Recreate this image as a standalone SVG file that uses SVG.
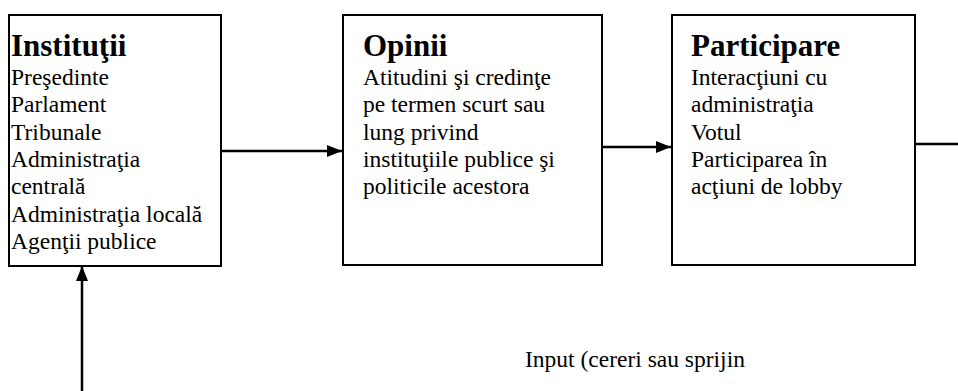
<svg xmlns="http://www.w3.org/2000/svg" width="958" height="391" viewBox="0 0 958 391">
<defs>
<marker id="ah" markerWidth="15" markerHeight="12" refX="15" refY="6" orient="auto" markerUnits="userSpaceOnUse">
<path d="M0,0 L15,6 L0,12 Z" fill="#000"/>
</marker>
<style>
.box{fill:#fff;stroke:#000;stroke-width:2}
.t{font-family:"Liberation Serif","Times New Roman",serif;font-weight:bold;font-size:31px;fill:#000}
.b{font-family:"Liberation Serif","Times New Roman",serif;font-size:23.5px;fill:#000}
.c{stroke:#000;stroke-width:2.5;fill:none}
</style>
</defs>
<rect width="958" height="391" fill="#fff"/>
<g id="connectors">
<line class="c" x1="222" y1="151" x2="342" y2="151" marker-end="url(#ah)"/>
<line class="c" x1="603" y1="147" x2="671" y2="147" marker-end="url(#ah)"/>
<line class="c" x1="915" y1="144" x2="958" y2="144"/>
<line class="c" x1="82" y1="391" x2="82" y2="266" marker-end="url(#ah)"/>
</g>
<g id="institutii">
<rect class="box" x="9" y="15" width="212" height="251"/>
<text class="t" x="11" y="55.5">Instituţii</text>
<text class="b" x="11" y="85">Preşedinte</text>
<text class="b" x="11" y="112.3">Parlament</text>
<text class="b" x="11" y="139.6">Tribunale</text>
<text class="b" x="11" y="166.9">Administraţia</text>
<text class="b" x="11" y="194.2">centrală</text>
<text class="b" x="11" y="221.5">Administraţia locală</text>
<text class="b" x="11" y="248.8">Agenţii publice</text>
</g>
<g id="opinii">
<rect class="box" x="343" y="15" width="259" height="250"/>
<text class="t" x="363" y="55.5">Opinii</text>
<text class="b" x="363" y="85">Atitudini şi credinţe</text>
<text class="b" x="363" y="112.3">pe termen scurt sau</text>
<text class="b" x="363" y="139.6">lung privind</text>
<text class="b" x="363" y="166.9">instituţiile publice şi</text>
<text class="b" x="363" y="194.2">politicile acestora</text>
</g>
<g id="participare">
<rect class="box" x="672" y="15" width="243" height="250"/>
<text class="t" x="691" y="55.5">Participare</text>
<text class="b" x="691" y="85">Interacţiuni cu</text>
<text class="b" x="691" y="112.3">administraţia</text>
<text class="b" x="691" y="139.6">Votul</text>
<text class="b" x="691" y="166.9">Participarea în</text>
<text class="b" x="691" y="194.2">acţiuni de lobby</text>
</g>
<g id="input-label">
<text class="b" x="525" y="367">Input (cereri sau sprijin</text>
</g>
</svg>
